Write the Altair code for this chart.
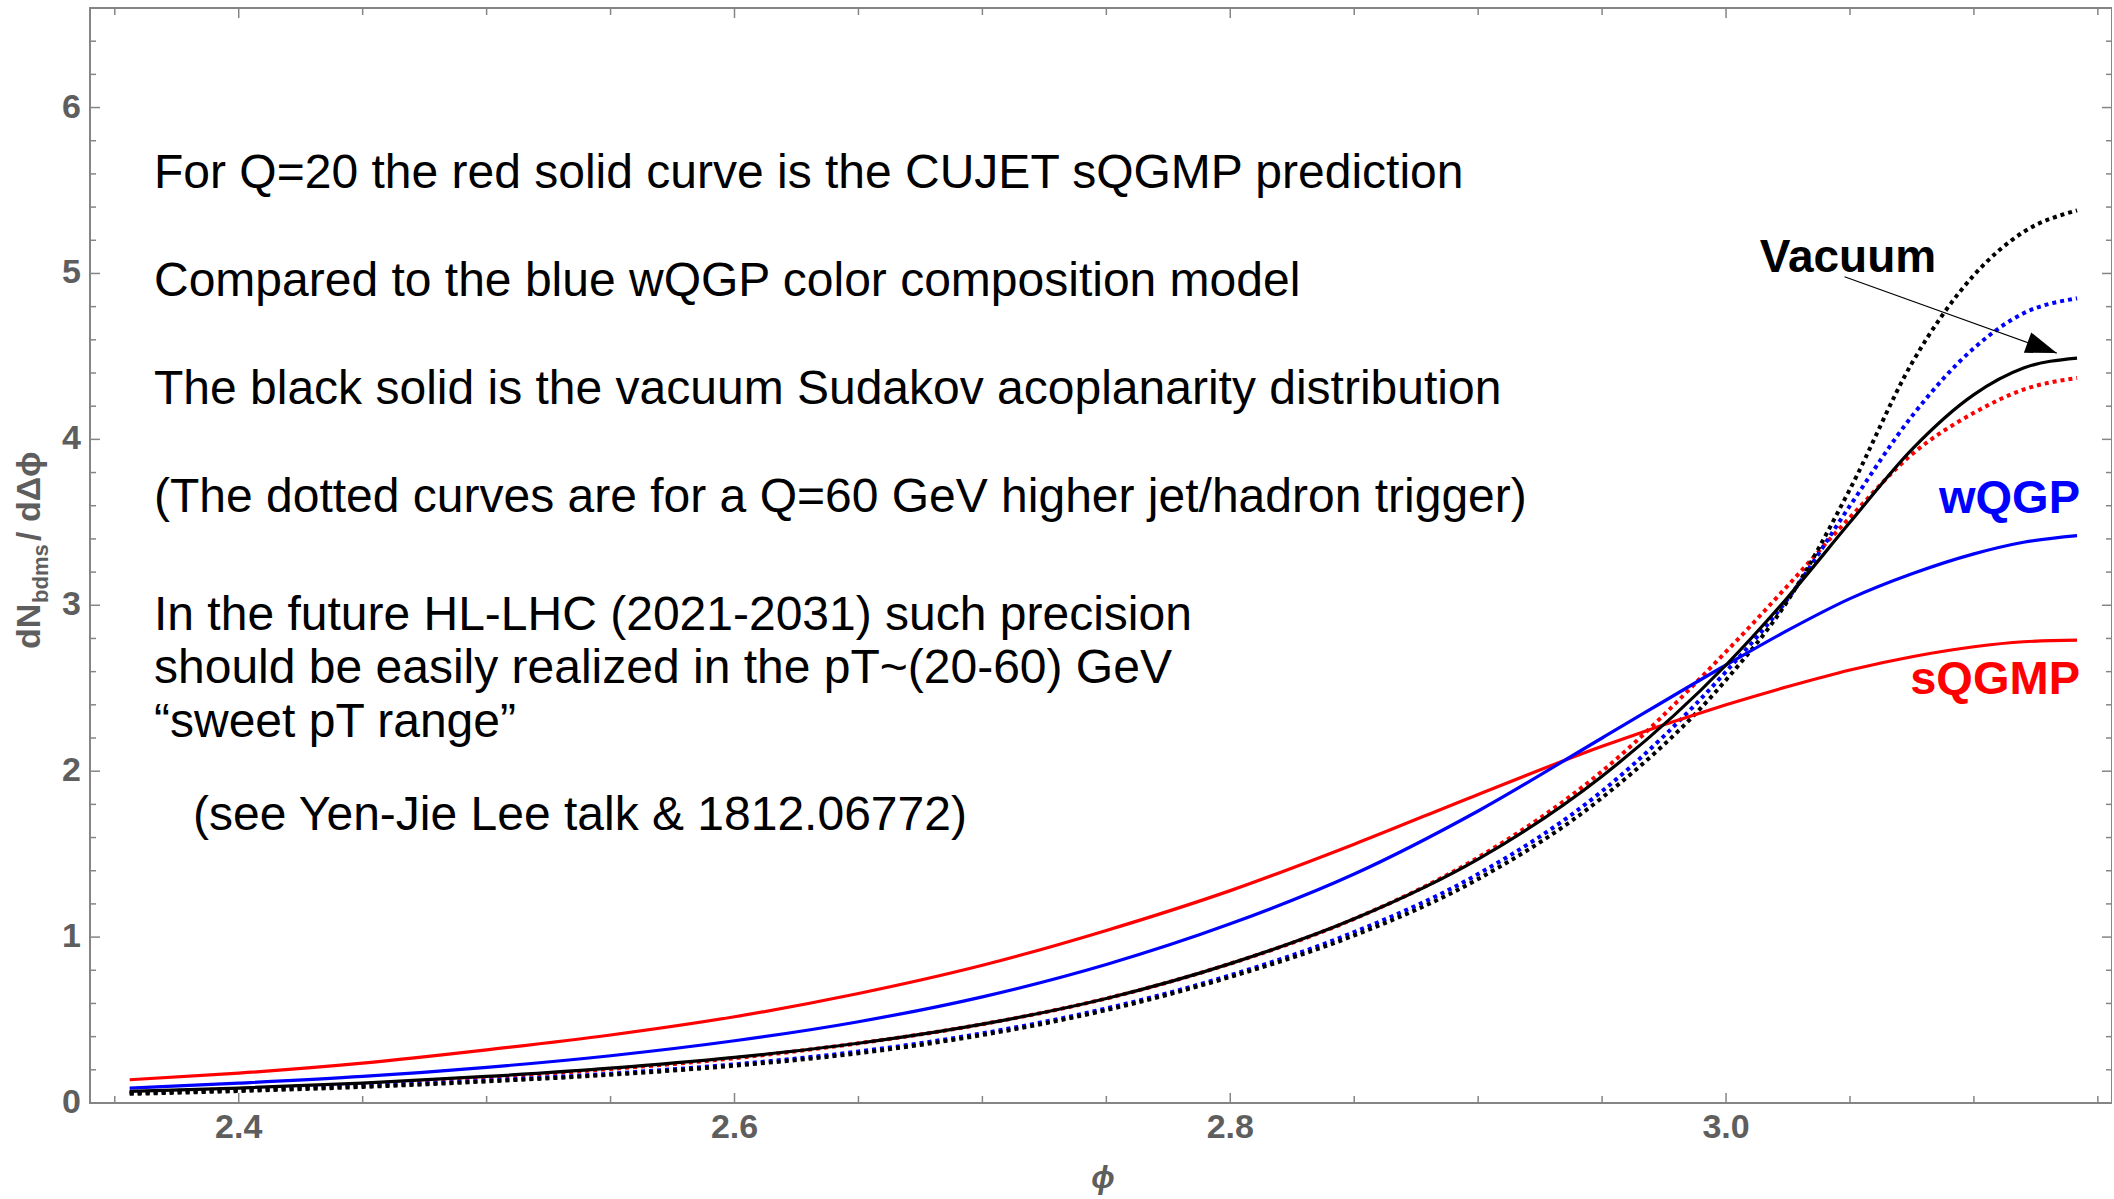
import altair as alt
import pandas as pd

# ---- curve values: dN/dΔφ versus φ ----
PHI = [2.356, 2.4, 2.45, 2.5, 2.55, 2.6, 2.65, 2.7, 2.75, 2.8, 2.85, 2.9,
       2.95, 3.0, 3.025, 3.05, 3.075, 3.1, 3.12, 3.1416]

SQGMP_Q20 = [0.14, 0.18, 0.24, 0.32, 0.41, 0.52, 0.66, 0.83, 1.04, 1.28, 1.56, 1.86,
             2.15, 2.40, 2.51, 2.61, 2.69, 2.75, 2.78, 2.79]
WQGP_Q20 = [0.09, 0.12, 0.16, 0.215, 0.285, 0.375, 0.49, 0.64, 0.835, 1.08, 1.38, 1.76,
            2.20, 2.64, 2.85, 3.04, 3.19, 3.31, 3.38, 3.42]
VACUUM_Q20 = [0.07, 0.09, 0.12, 0.16, 0.21, 0.275, 0.36, 0.475, 0.63, 0.84, 1.11, 1.47,
              1.97, 2.64, 3.05, 3.50, 3.94, 4.27, 4.43, 4.49]

SQGMP_Q60 = [0.065, 0.085, 0.115, 0.155, 0.205, 0.27, 0.36, 0.475, 0.63, 0.84, 1.11, 1.48,
             2.00, 2.72, 3.12, 3.53, 3.91, 4.16, 4.30, 4.37]
WQGP_Q60 = [0.06, 0.077, 0.102, 0.135, 0.177, 0.233, 0.31, 0.42, 0.57, 0.77, 1.03, 1.38,
            1.88, 2.60, 3.04, 3.60, 4.14, 4.55, 4.76, 4.85]
VACUUM_Q60 = [0.055, 0.072, 0.097, 0.13, 0.17, 0.225, 0.30, 0.41, 0.56, 0.76, 1.01, 1.35,
              1.84, 2.55, 3.03, 3.70, 4.46, 4.99, 5.25, 5.38]

# ---- frame ticks and labels ----
X_MAJOR = [2.4, 2.6, 2.8, 3.0]
X_MINOR = [2.35, 2.45, 2.5, 2.55, 2.65, 2.7, 2.75, 2.85, 2.9, 2.95, 3.05, 3.1, 3.15]
Y_MAJOR = [0, 1, 2, 3, 4, 5, 6]
Y_MINOR = [0.2, 0.4, 0.6, 0.8, 1.2, 1.4, 1.6, 1.8, 2.2, 2.4, 2.6, 2.8, 3.2, 3.4, 3.6,
           3.8, 4.2, 4.4, 4.6, 4.8, 5.2, 5.4, 5.6, 5.8, 6.2, 6.4]
X_LABELS = ["2.4", "2.6", "2.8", "3.0"]
Y_LABELS = ["0", "1", "2", "3", "4", "5", "6"]

NOTES = [
    "For Q=20 the red solid curve is the CUJET sQGMP prediction",
    "Compared to the blue wQGP color composition model",
    "The black solid is the vacuum Sudakov acoplanarity distribution",
    "(The dotted curves are for a Q=60 GeV higher jet/hadron trigger)",
    "In the future HL-LHC (2021-2031) such precision",
    "should be easily realized in the pT~(20-60) GeV",
    "\u201csweet pT range\u201d",
    "(see Yen-Jie Lee talk & 1812.06772)",
]
SERIES_LABELS = ["Vacuum", "wQGP", "sQGMP"]

# ---- layout ----
W, H = 2022, 1095
X_DOMAIN = [2.34, 3.1557]
Y_DOMAIN = [0, 6.6]
FRAME = "#858585"
LABEL = "#5e5e5e"
FONT = "Liberation Sans"

xs = alt.Scale(domain=X_DOMAIN, nice=False, zero=False)
ys = alt.Scale(domain=Y_DOMAIN, nice=False, zero=False)

series = [
    ("sQGMP Q=20", "solid", SQGMP_Q20),
    ("wQGP Q=20", "solid", WQGP_Q20),
    ("Vacuum Q=20", "solid", VACUUM_Q20),
    ("sQGMP Q=60", "dotted", SQGMP_Q60),
    ("wQGP Q=60", "dotted", WQGP_Q60),
    ("Vacuum Q=60", "dotted", VACUUM_Q60),
]
rows = []
for order, (name, style, vals) in enumerate(series):
    for p, v in zip(PHI, vals):
        rows.append({"phi": p, "value": v, "series": name, "style": style, "order": order})
curves = pd.DataFrame(rows)

color_scale = alt.Scale(
    domain=["sQGMP Q=20", "wQGP Q=20", "Vacuum Q=20", "sQGMP Q=60", "wQGP Q=60", "Vacuum Q=60"],
    range=["#ff0000", "#0000ff", "#000000", "#ff0000", "#0000ff", "#000000"],
)

dotted = alt.Chart(curves).transform_filter(alt.datum.style == "dotted").mark_line(
    strokeWidth=4, strokeDash=[4, 4], interpolate="monotone"
).encode(
    x=alt.X("phi:Q", scale=xs, axis=None),
    y=alt.Y("value:Q", scale=ys, axis=None),
    color=alt.Color("series:N", scale=color_scale, legend=None),
    order="order:Q",
)

solid = alt.Chart(curves).transform_filter(alt.datum.style == "solid").mark_line(
    strokeWidth=3.2, interpolate="monotone"
).encode(
    x=alt.X("phi:Q", scale=xs, axis=None),
    y=alt.Y("value:Q", scale=ys, axis=None),
    color=alt.Color("series:N", scale=color_scale, legend=None),
    order="order:Q",
)


# ---- inward frame ticks on all four sides ----
def xticks(vals, length, top):
    y0 = 0 if top else H
    y1 = length if top else H - length
    return alt.Chart(pd.DataFrame({"v": vals})).mark_rule(
        color=FRAME, strokeWidth=1.5
    ).encode(x=alt.X("v:Q", scale=xs, axis=None), y=alt.value(y0), y2=alt.value(y1))


def yticks(vals, length, right):
    x0 = W if right else 0
    x1 = W - length if right else length
    return alt.Chart(pd.DataFrame({"v": vals})).mark_rule(
        color=FRAME, strokeWidth=1.5
    ).encode(y=alt.Y("v:Q", scale=ys, axis=None), x=alt.value(x0), x2=alt.value(x1))


tick_layers = [
    xticks(X_MAJOR, 10, False), xticks(X_MINOR, 7, False),
    xticks(X_MAJOR, 10, True), xticks(X_MINOR, 7, True),
    yticks(Y_MAJOR, 10, False), yticks(Y_MINOR, 6, False),
    yticks(Y_MAJOR, 10, True), yticks(Y_MINOR, 6, True),
]

# ---- tick labels ----
x_labels = alt.Chart(pd.DataFrame({"v": X_MAJOR, "t": X_LABELS})).mark_text(
    font=FONT, fontSize=34, fontWeight="bold", color=LABEL, align="center", baseline="middle"
).encode(x=alt.X("v:Q", scale=xs, axis=None), y=alt.value(H + 25), text="t:N")

y_labels = alt.Chart(pd.DataFrame({"v": Y_MAJOR, "t": Y_LABELS})).mark_text(
    font=FONT, fontSize=34, fontWeight="bold", color=LABEL, align="right", baseline="middle"
).encode(y=alt.Y("v:Q", scale=ys, axis=None), x=alt.value(-9), text="t:N")


def text_at(txt, x, y, **kw):
    props = dict(font=FONT, fontSize=48, color="black", align="left", baseline="alphabetic")
    props.update(kw)
    return alt.Chart(pd.DataFrame({"t": [txt]})).mark_text(**props).encode(
        x=alt.value(x), y=alt.value(y), text="t:N"
    )


# annotation block
note_pos = [(64, 180), (64, 288), (64, 396), (64, 504),
            (64, 622), (64, 675), (64, 729), (103, 822)]
note_layers = [text_at(t, x, y) for t, (x, y) in zip(NOTES, note_pos)]

# curve labels
label_layers = [
    text_at(SERIES_LABELS[0], 1758, 264, fontSize=46, fontWeight="bold", align="center"),
    text_at(SERIES_LABELS[1], 1990, 505, fontSize=47, fontWeight="bold", align="right",
            color="#0000ff"),
    text_at(SERIES_LABELS[2], 1990, 686, fontSize=47, fontWeight="bold", align="right",
            color="#ff0000"),
]

# arrow from the "Vacuum" label to the end of the vacuum curve
arrow = pd.DataFrame({"x0": [3.0478], "y0": [4.98], "x1": [3.1334], "y1": [4.52]})
arrow_line = alt.Chart(arrow).mark_rule(color="black", strokeWidth=1.2).encode(
    x=alt.X("x0:Q", scale=xs, axis=None), y=alt.Y("y0:Q", scale=ys, axis=None),
    x2="x1:Q", y2="y1:Q",
)
arrow_head = alt.Chart(arrow).mark_point(
    shape="M0,0L-2,-0.7L-2,0.7Z", filled=True, color="black", opacity=1,
    size=961, angle=19.8, strokeWidth=0,
).encode(x=alt.X("x1:Q", scale=xs, axis=None), y=alt.Y("y1:Q", scale=ys, axis=None))

# axis titles (rotated, with a subscript)
y_title = [
    text_at("dN", -50, 641, fontSize=34, fontWeight="bold", color=LABEL, angle=270),
    text_at("bdms", -42, 595, fontSize=22, fontWeight="bold", color=LABEL, angle=270),
    text_at("/ d\u0394\u03d5", -50, 533, fontSize=34, fontWeight="bold",
            color=LABEL, angle=270),
]
x_title = text_at("\u03d5", 1013, 1171, fontSize=31, fontWeight="bold", fontStyle="italic",
                  color=LABEL, align="center", baseline="middle")

chart = alt.layer(
    dotted, solid, *tick_layers, x_labels, y_labels, *note_layers, *label_layers,
    arrow_line, arrow_head, *y_title, x_title,
).properties(
    width=W, height=H,
    autosize=alt.AutoSizeParams(type="none"),
    padding={"left": 90, "top": 8, "right": 0, "bottom": 94},
    background="white",
).configure_view(stroke=FRAME, strokeWidth=2)

chart.save("out.html", embed_options={"renderer": "svg", "actions": False})
